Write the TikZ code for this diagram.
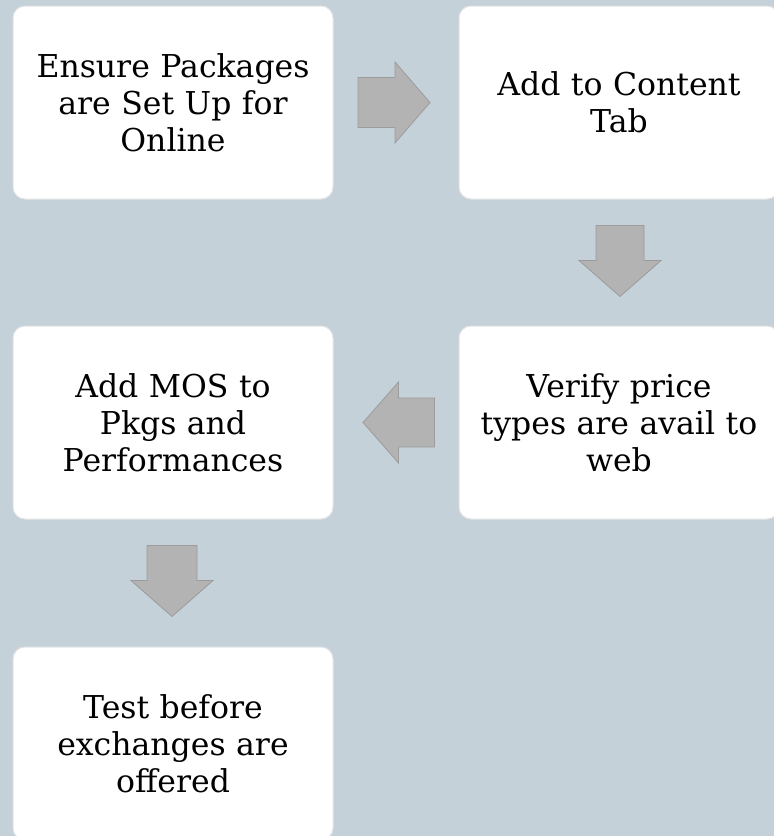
\documentclass[tikz,border=0pt]{standalone}
\usepackage{fontspec}
\setmainfont{DejaVu Serif}
\usetikzlibrary{calc}
\definecolor{bgc}{HTML}{C5D1D8}
\definecolor{arrfill}{HTML}{B3B3B3}
\definecolor{arrline}{HTML}{9C9C9C}
\definecolor{boxline}{HTML}{E2E4E6}
\tikzset{
  stepbox/.style={draw=boxline, line width=1pt, fill=white, rounded corners=12pt,
    minimum width=320pt, minimum height=193pt, inner sep=0pt, align=center,
    font=\fontsize{31.5}{37}\selectfont, text width=310pt},
  blockarrow/.style={fill=arrfill, draw=arrline, line width=0.8pt, line join=miter}
}
\begin{document}
\begin{tikzpicture}[x=1pt,y=-1pt]
\useasboundingbox (0,0) rectangle (774,836);
\fill[bgc] (0,0) rectangle (774,836);
\clip (0,0) rectangle (774,836);
\node[stepbox] (b1) at (173,102.5) {Ensure Packages\\are Set Up for\\Online};
\node[stepbox] (b2) at (619,102.5) {Add to Content\\Tab};
\node[stepbox] (b3) at (619,422.5) {Verify price\\types are avail to\\web};
\node[stepbox] (b4) at (173,422.5) {Add MOS to\\Pkgs and\\Performances};
\node[stepbox] (b5) at (173,743.5) {Test before\\exchanges are\\offered};
% right arrow b1 -> b2
\coordinate (a1) at ($(b1.east)!0.5!(b2.west)+(-2,0)$);
\draw[blockarrow] (a1) ++(-36,-25) -- ++(37,0) -- ++(0,-15.5) -- ++(35,40.5) -- ++(-35,40.5) -- ++(0,-15.5) -- ++(-37,0) -- cycle;
% down arrow b2 -> b3
\coordinate (a2) at ($(b2.south)!0.5!(b3.north)+(1,-1.5)$);
\draw[blockarrow] (a2) ++(-24,-35.5) -- ++(48,0) -- ++(0,35) -- ++(17,0) -- ++(-41,36) -- ++(-41,-36) -- ++(17,0) -- cycle;
% left arrow b3 -> b4
\coordinate (a3) at ($(b3.west)!0.5!(b4.east)+(2.5,0)$);
\draw[blockarrow] (a3) ++(36,-24.5) -- ++(-36,0) -- ++(0,-16) -- ++(-35.5,40.5) -- ++(35.5,40.5) -- ++(0,-16) -- ++(36,0) -- cycle;
% down arrow b4 -> b5
\coordinate (a4) at ($(b4.south)!0.5!(b5.north)+(-1,-2)$);
\draw[blockarrow] (a4) ++(-25,-35.5) -- ++(50,0) -- ++(0,35) -- ++(16,0) -- ++(-41,36) -- ++(-41,-36) -- ++(16,0) -- cycle;
\end{tikzpicture}
\end{document}
